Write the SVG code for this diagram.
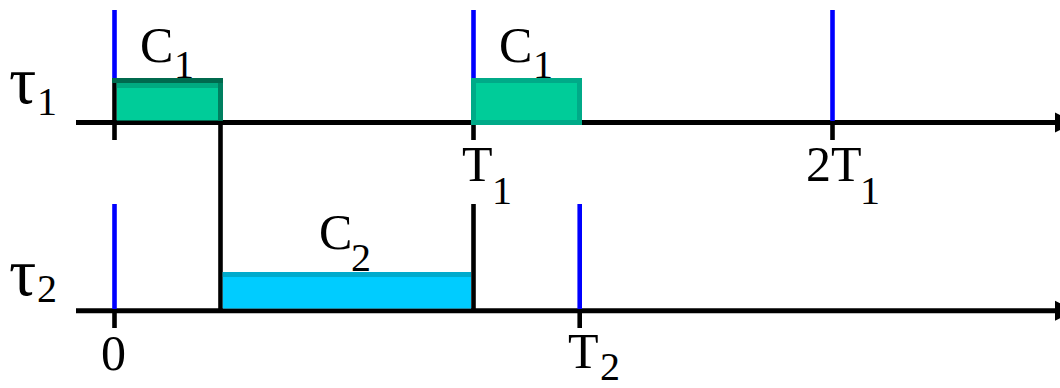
<svg xmlns="http://www.w3.org/2000/svg" width="1060" height="388" viewBox="0 0 1060 388">
<style>
.ax{stroke:#000;stroke-width:5;fill:none}
.bl{stroke:#0000ff;stroke-width:4.6;fill:none}
.bk{stroke:#000;stroke-width:4.6;fill:none}
.t{font-family:"Liberation Serif","Times New Roman",serif;font-size:50px;fill:#000}
.s{font-family:"Liberation Serif","Times New Roman",serif;font-size:40px;fill:#000}
.tau{font-family:"Liberation Serif","Times New Roman",serif;font-size:68px;fill:#000}
</style>
<defs>
<marker id="arr" markerUnits="userSpaceOnUse" markerWidth="24" markerHeight="24" refX="0" refY="12" orient="auto" viewBox="0 0 24 24">
<path d="M0,2 L20,12 L0,22 z" fill="#000"/>
</marker>
</defs>
<g id="connectors">
<line class="ax" x1="76" y1="122.5" x2="1055" y2="122.5" marker-end="url(#arr)"/>
<line class="ax" x1="76" y1="310.8" x2="1055" y2="310.8" marker-end="url(#arr)"/>
<line class="bl" x1="114.5" y1="10" x2="114.5" y2="80"/>
<line class="bk" x1="114.5" y1="80" x2="114.5" y2="140"/>
<line class="bl" x1="114.5" y1="204" x2="114.5" y2="309"/>
<line class="bk" x1="114.5" y1="309" x2="114.5" y2="328"/>
<line class="bk" x1="220.5" y1="122" x2="220.5" y2="309"/>
<line class="bl" x1="473.5" y1="10" x2="473.5" y2="80"/>
<line class="bk" x1="473.5" y1="120" x2="473.5" y2="140"/>
<line class="bk" x1="473.5" y1="204" x2="473.5" y2="309"/>
<line class="bl" x1="579.7" y1="204" x2="579.7" y2="309"/>
<line class="bk" x1="579.7" y1="309" x2="579.7" y2="328"/>
<line class="bl" x1="832.5" y1="10" x2="832.5" y2="121"/>
<line class="bk" x1="832.5" y1="121" x2="832.5" y2="140"/>
</g>
<g id="job-c1-a">
<rect x="116.8" y="78" width="106" height="42.5" fill="#00cc99"/>
<rect x="116.8" y="83" width="101.5" height="5" fill="#00aa80"/>
<rect x="218" y="78" width="5" height="42.5" fill="#008060"/>
<rect x="112" y="78" width="111" height="5" fill="#006a4e"/>
<text class="t" x="140" y="62">C</text><text class="s" x="174" y="78">1</text>
</g>
<g id="job-c1-b">
<rect x="473.5" y="80.5" width="106" height="42" fill="#00cc99" stroke="#00aa88" stroke-width="5"/>
<text class="t" x="499" y="62">C</text><text class="s" x="533" y="78">1</text>
</g>
<g id="job-c2">
<rect x="222.8" y="272" width="248.2" height="36.5" fill="#00ccff"/>
<rect x="222.8" y="272" width="248.2" height="5" fill="#00aacc"/>
<text class="t" x="319" y="249">C</text><text class="s" x="351" y="271">2</text>
</g>
<g id="label-tau1">
<text class="tau" x="9" y="103">τ</text><text class="s" x="37" y="115">1</text>
</g>
<g id="label-tau2">
<text class="tau" x="9" y="295">τ</text><text class="s" x="37" y="302">2</text>
</g>
<g id="tick-labels">
<text class="t" x="462" y="181">T</text><text class="s" x="492" y="204">1</text>
<text class="t" x="806" y="181">2T</text><text class="s" x="860" y="204">1</text>
<text class="t" x="101" y="370">0</text>
<text class="t" x="568" y="368">T</text><text class="s" x="600" y="380">2</text>
</g>
</svg>
